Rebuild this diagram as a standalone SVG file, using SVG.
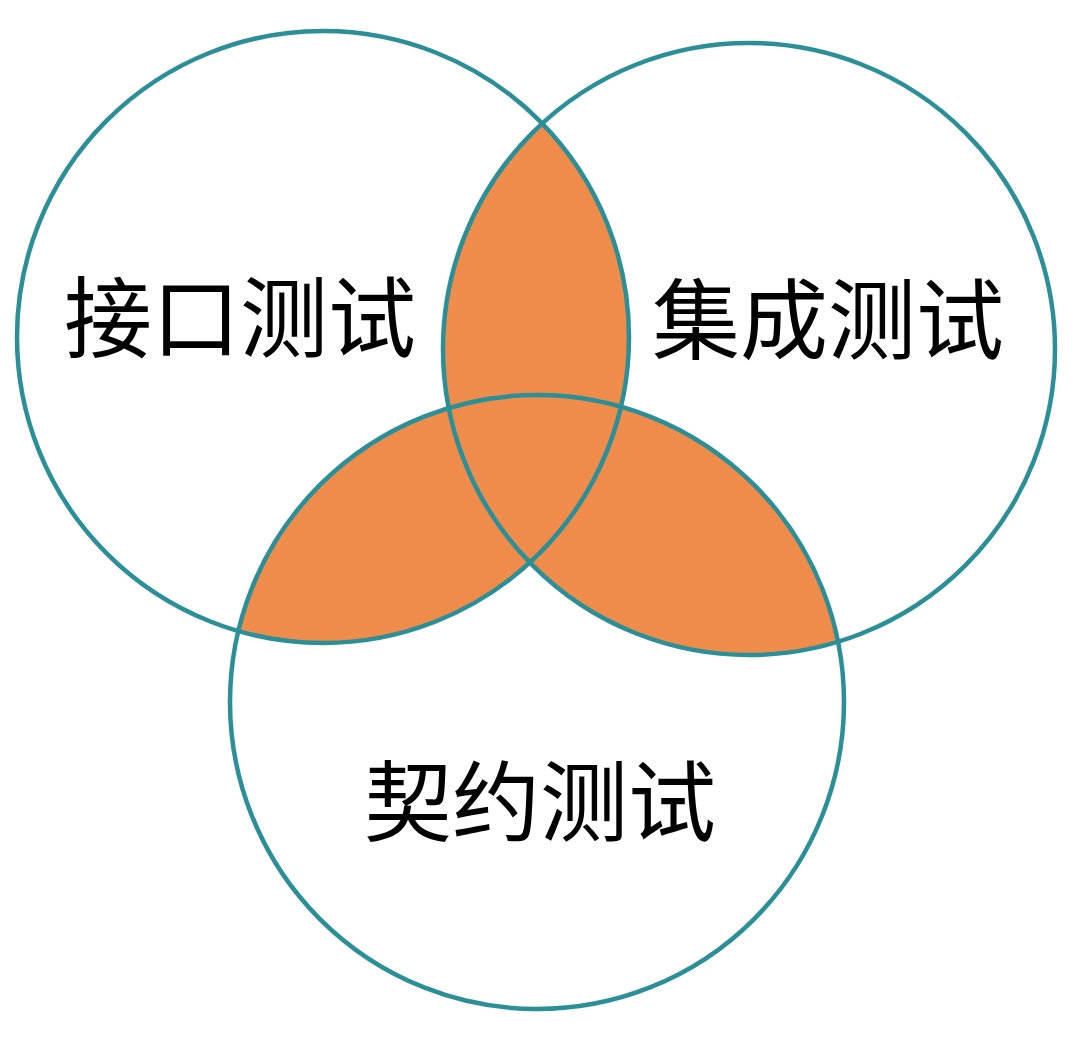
<svg xmlns="http://www.w3.org/2000/svg" width="1080" height="1051" viewBox="0 0 1080 1051">
  <defs>
    <clipPath id="clipA"><circle cx="323" cy="337" r="306"/></clipPath>
    <clipPath id="clipB"><circle cx="749" cy="349" r="306"/></clipPath>
  </defs>
  <style>
    .ring { fill: none; stroke: #2b8f98; stroke-width: 4.5; }
    .lens { fill: #ef8b4b; stroke: none; }
    .label { font-family: "Noto Sans CJK SC", "Noto Sans", sans-serif; font-size: 88px; fill: #000000; text-anchor: middle; }
  </style>
  <rect x="0" y="0" width="1080" height="1051" fill="#ffffff"/>
  <g id="overlaps">
    <circle class="lens" cx="749" cy="349" r="306" clip-path="url(#clipA)"/>
    <circle class="lens" cx="537" cy="702" r="307" clip-path="url(#clipA)"/>
    <circle class="lens" cx="537" cy="702" r="307" clip-path="url(#clipB)"/>
  </g>
  <g id="node-interface">
    <circle class="ring" cx="323" cy="337" r="306"/>
    <text class="label" x="240" y="350">接口测试</text>
  </g>
  <g id="node-integration">
    <circle class="ring" cx="749" cy="349" r="306"/>
    <text class="label" x="828" y="352">集成测试</text>
  </g>
  <g id="node-contract">
    <circle class="ring" cx="537" cy="702" r="307"/>
    <text class="label" x="540" y="834">契约测试</text>
  </g>
  <g id="connectors"></g>
</svg>
